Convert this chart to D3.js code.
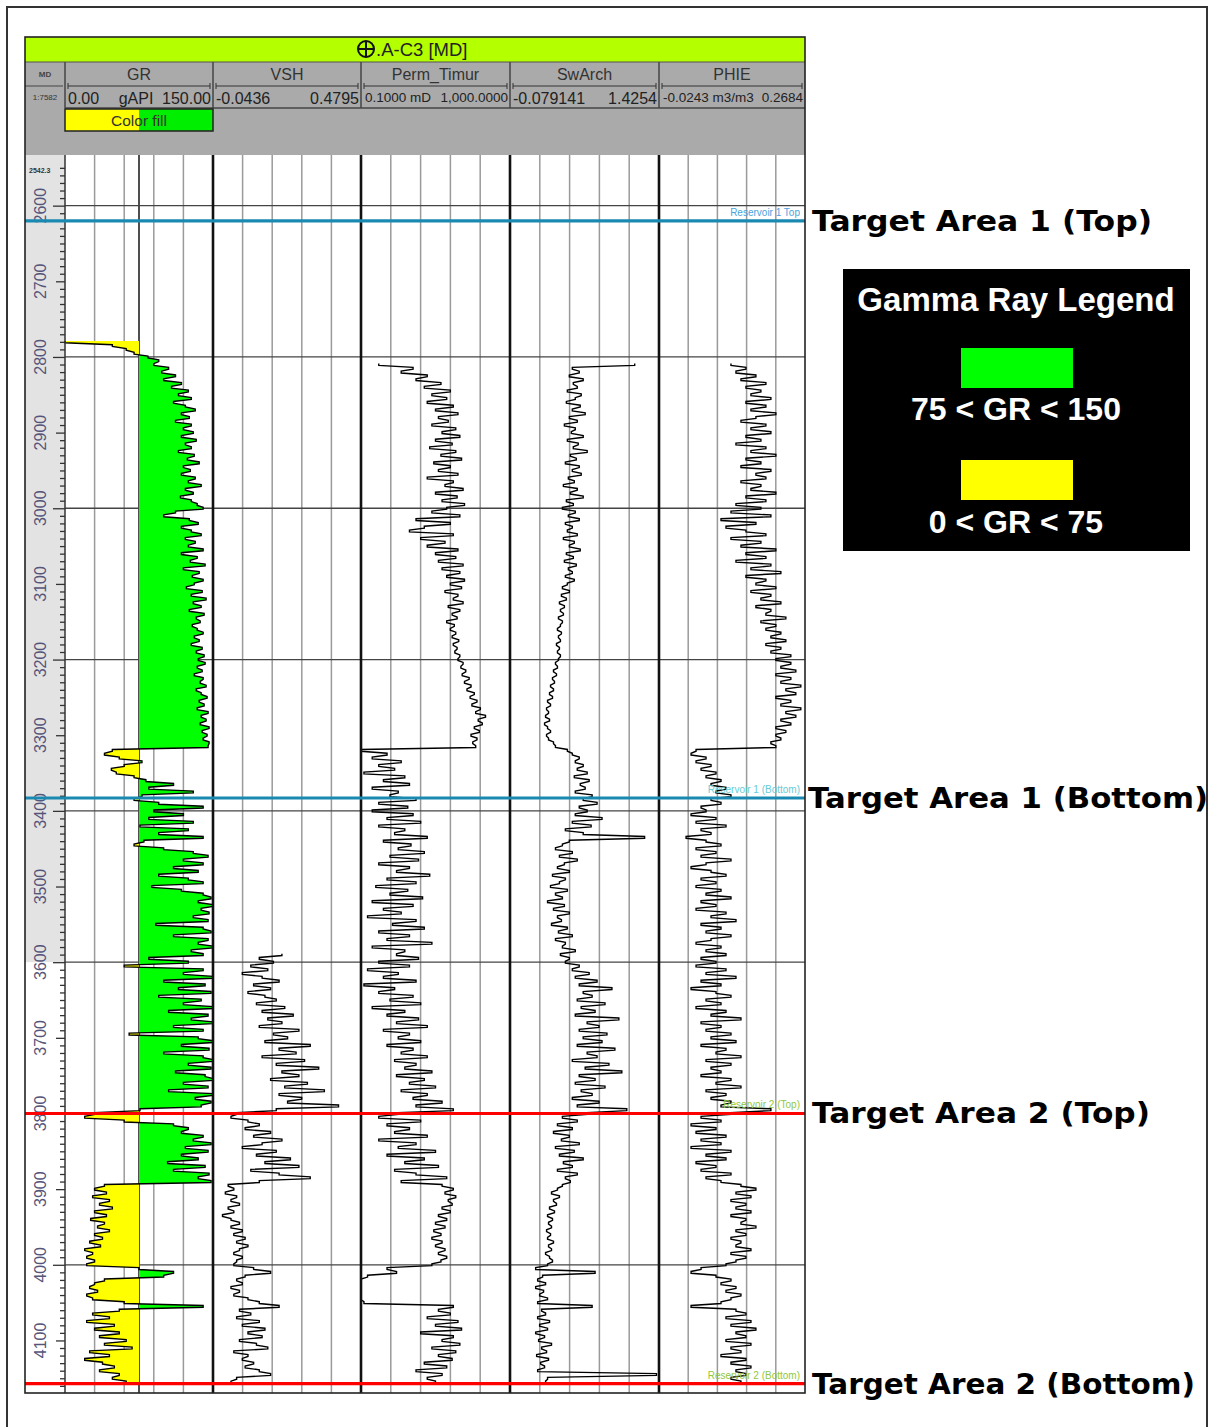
<!DOCTYPE html>
<html><head><meta charset="utf-8">
<script src="https://cdn.jsdelivr.net/npm/d3@7"></script>
<style>
html,body{margin:0;padding:0;background:#fff;}
svg{display:block;}
</style></head><body>
<svg id="chart" width="1212" height="1427"></svg>
<script>
// ---- Well A-C3 log curves, sampled every 5 m of measured depth ----
const STEP = 5;

// Gamma ray (gAPI), first sample at 2780 m
const grTop = 2780;
const grValues = [
  0, 48, 62, 70,
  84, 95, 90, 105, 98, 112, 100, 118, 108, 125,
  115, 128, 110, 122, 132, 118, 126, 112, 128, 120,
  130, 118, 133, 122, 128, 115, 131, 124, 136, 120,
  127, 118, 132, 125, 138, 122, 130, 117, 128, 134,
  140, 112, 100, 126, 135, 118, 128, 138, 122, 132,
  125, 140, 118, 134, 127, 142, 120, 136, 129, 140,
  131, 123, 139, 128, 143, 130, 138, 126, 141, 133,
  137, 129, 134, 140, 131, 136, 128, 139, 133, 141,
  135, 142, 134, 139, 131, 140, 137, 143, 133, 138,
  144, 136, 141, 134, 145, 138, 143, 137, 146, 139,
  144, 140, 146, 145, 48, 40, 55, 78, 60, 47,
  52, 70, 82, 110, 85, 130, 78, 70, 95, 140,
  90, 120, 85, 130, 76, 125, 95, 140, 80, 70,
  100, 130, 145, 120, 140, 110, 135, 95, 125, 140,
  88, 118, 140, 148, 135, 150, 138, 146, 130, 145,
  92, 140, 148, 110, 145, 135, 150, 128, 140, 85,
  125, 60, 140, 120, 150, 100, 142, 115, 148, 95,
  138, 120, 150, 105, 145, 128, 150, 110, 140, 65,
  135, 150, 118, 146, 100, 140, 150, 125, 148, 112,
  142, 150, 120, 145, 105, 150, 132, 148, 138, 76,
  30, 20, 60, 110, 125, 118, 140, 130, 148, 122,
  145, 118, 135, 104, 142, 110, 146, 135, 148, 40,
  30, 42, 28, 45, 35, 48, 30, 42, 26, 40,
  33, 45, 30, 38, 25, 36, 20, 28, 22, 30,
  22, 75, 110, 100, 40, 30, 25, 33, 22, 28,
  60, 140, 55, 28, 45, 22, 50, 30, 55, 35,
  62, 40, 68, 25, 45, 20, 38, 50, 35, 55,
  48, 62
];

// Shale volume (v/v), first sample at 3590 m
const vshTop = 3590;
const vshValues = [
  0.20, 0.12,
  0.17, 0.09, 0.15, 0.06, 0.13, 0.19, 0.10, 0.16, 0.08, 0.14,
  0.18, 0.11, 0.21, 0.13, 0.24, 0.15, 0.20, 0.12, 0.26, 0.17,
  0.22, 0.14, 0.30, 0.19, 0.25, 0.13, 0.28, 0.18, 0.33, 0.20,
  0.26, 0.16, 0.29, 0.21, 0.35, 0.19, 0.27, 0.22, 0.40, 0.18,
  0.04, 0.02, 0.08, 0.12, 0.07, 0.16, 0.10, 0.20, 0.13, 0.06,
  0.18, 0.11, 0.23, 0.14, 0.26, 0.09, 0.19, 0.30, 0.12, 0.01,
  0.03, 0.00, 0.04, 0.02, 0.05, 0.01, 0.03, -0.01, 0.02, 0.05,
  0.02, 0.06, 0.03, 0.07, 0.04, 0.08, 0.05, 0.03, 0.06, 0.04,
  0.03, 0.10, 0.16, 0.07, 0.04, 0.06, 0.02, 0.05, 0.03, 0.08,
  0.12, 0.19, 0.05, 0.09, 0.04, 0.12, 0.06, 0.14, 0.08, 0.13,
  0.05, 0.11, 0.15, 0.03, 0.08, 0.06, 0.10, 0.07, 0.12, 0.16,
  0.04, 0.02
];

// Permeability, Timur (mD), first sample at 2810 m
const permTop = 2810;
const permValues = [
  0.3, 2.5, 1.2, 6, 3, 14, 5, 25, 8, 20,
  6, 30, 10, 40, 12, 22, 8, 35, 15, 45,
  10, 28, 7, 35, 14, 50, 9, 25, 12, 40,
  6, 30, 18, 55, 10, 38, 15, 60, 20, 8,
  45, 3, 25, 5, 2, 30, 4, 18, 6, 40,
  10, 35, 12, 55, 15, 45, 20, 60, 25, 50,
  18, 40, 30, 55, 22, 45, 28, 38, 20, 32,
  25, 35, 28, 42, 30, 38, 33, 45, 40, 55,
  48, 65, 52, 80, 60, 90, 70, 110, 85, 130,
  95, 160, 120, 220, 140, 180, 110, 150, 90, 130,
  100, 120, 0.1, 0.5, 0.2, 1.2, 0.3, 0.8, 0.12, 1.5,
  0.4, 2.0, 0.2, 1.0, 0.6, 3.0, 0.3, 1.8, 0.2, 2.5,
  0.5, 4, 0.3, 1.5, 0.8, 6, 0.4, 2.2, 1.0, 5,
  0.6, 3.5, 0.3, 2.0, 0.9, 7, 0.5, 3, 0.25, 1.8,
  0.6, 4.5, 0.2, 2.5, 0.4, 1.2, 0.15, 3.0, 0.7, 5,
  0.3, 2.0, 0.5, 8, 0.2, 1.5, 0.9, 3.5, 0.3, 2.0,
  0.15, 1.0, 0.4, 3.0, 0.12, 0.8, 0.3, 2.5, 0.6, 4,
  0.2, 1.5, 0.5, 3.5, 0.9, 6, 0.4, 2.0, 1.0, 4,
  0.5, 2.5, 1.2, 6, 0.8, 3.0, 1.5, 8, 0.9, 5,
  2.0, 10, 1.2, 6, 2.5, 15, 3, 30, 1.0, 0.3,
  4, 0.5, 2.0, 0.8, 6, 0.3, 3, 1.0, 10, 0.5,
  5, 1.5, 12, 0.8, 3, 20, 1.2, 15, 30, 18,
  35, 22, 28, 15, 25, 12, 20, 10, 18, 9,
  14, 8, 15, 10, 18, 12, 20, 14, 8, 0.5,
  0.9, 0.15, 0.1, 0.1, 0.1, 0.1, 0.1, 0.1, 0.12, 30,
  12, 25, 6, 40, 10, 50, 4, 30, 15, 45,
  8, 35, 12, 28, 5, 20, 3, 15, 6, 10
];

// Water saturation, Archie (v/v), first sample at 2810 m
const swTop = 2810;
const swValues = [
  1.18, 0.55, 0.62, 0.52, 0.66, 0.56, 0.60, 0.50, 0.64, 0.58,
  0.49, 0.63, 0.55, 0.68, 0.52, 0.60, 0.47, 0.58, 0.54, 0.66,
  0.50, 0.61, 0.56, 0.70, 0.53, 0.59, 0.48, 0.62, 0.55, 0.64,
  0.51, 0.57, 0.46, 0.60, 0.53, 0.66, 0.49, 0.56, 0.45, 0.58,
  0.51, 0.62, 0.48, 0.55, 0.50, 0.60, 0.46, 0.57, 0.52, 0.63,
  0.49, 0.56, 0.47, 0.59, 0.51, 0.55, 0.48, 0.57, 0.50, 0.45,
  0.52, 0.44, 0.49, 0.42, 0.47, 0.43, 0.46, 0.41, 0.45, 0.43,
  0.40, 0.44, 0.41, 0.43, 0.39, 0.42, 0.40, 0.43, 0.41, 0.38,
  0.40, 0.36, 0.39, 0.35, 0.37, 0.33, 0.36, 0.32, 0.35, 0.30,
  0.33, 0.29, 0.31, 0.28, 0.32, 0.27, 0.30, 0.33, 0.29, 0.31,
  0.36, 0.38, 0.50, 0.55, 0.62, 0.58, 0.66, 0.60, 0.70, 0.57,
  0.72, 0.63, 0.68, 0.58, 0.75, 0.66, 0.80, 0.62, 0.70, 0.58,
  0.85, 0.55, 0.74, 0.48, 0.66, 1.28, 0.52, 0.45, 0.38, 0.55,
  0.42, 0.60, 0.47, 0.40, 0.52, 0.35, 0.48, 0.42, 0.33, 0.50,
  0.38, 0.45, 0.30, 0.47, 0.36, 0.52, 0.40, 0.44, 0.34, 0.50,
  0.41, 0.55, 0.38, 0.48, 0.45, 0.58, 0.43, 0.52, 0.48, 0.62,
  0.55, 0.72, 0.58, 0.80, 0.62, 0.95, 0.66, 0.75, 0.60, 0.88,
  0.64, 0.78, 0.58, 1.02, 0.70, 0.82, 0.62, 0.90, 0.66, 0.85,
  0.60, 0.98, 0.70, 0.80, 0.55, 0.92, 0.68, 1.05, 0.62, 0.78,
  0.58, 0.88, 0.64, 0.75, 0.55, 0.82, 0.60, 1.10, 0.70, 0.45,
  0.60, 0.40, 0.55, 0.36, 0.52, 0.44, 0.62, 0.38, 0.57, 0.42,
  0.66, 0.46, 0.55, 0.40, 0.60, 0.48, 0.53, 0.45, 0.40, 0.34,
  0.42, 0.36, 0.39, 0.32, 0.37, 0.30, 0.35, 0.31, 0.34, 0.29,
  0.33, 0.30, 0.36, 0.31, 0.34, 0.28, 0.32, 0.35, 0.30, 0.18,
  0.78, 0.25, 0.20, 0.28, 0.18, 0.26, 0.22, 0.30, 0.20, 0.75,
  0.24, 0.28, 0.20, 0.32, 0.22, 0.30, 0.18, 0.27, 0.21, 0.34,
  0.24, 0.29, 0.19, 0.31, 0.23, 0.27, 0.20, 1.40, 0.30, 0.28
];

// Effective porosity (m3/m3), first sample at 2810 m
const phieTop = 2810;
const phieValues = [
  0.12, 0.15, 0.13, 0.17, 0.14, 0.19, 0.15, 0.18, 0.16, 0.20,
  0.15, 0.19, 0.16, 0.21, 0.17, 0.14, 0.19, 0.16, 0.20, 0.15,
  0.18, 0.13, 0.19, 0.16, 0.21, 0.15, 0.18, 0.14, 0.20, 0.17,
  0.19, 0.14, 0.18, 0.16, 0.21, 0.15, 0.19, 0.13, 0.18, 0.12,
  0.20, 0.10, 0.17, 0.11, 0.15, 0.19, 0.12, 0.18, 0.14, 0.21,
  0.15, 0.19, 0.13, 0.20, 0.16, 0.22, 0.15, 0.19, 0.17, 0.21,
  0.16, 0.20, 0.18, 0.22, 0.17, 0.20, 0.19, 0.23, 0.18, 0.21,
  0.19, 0.22, 0.20, 0.23, 0.19, 0.22, 0.20, 0.24, 0.21, 0.24,
  0.22, 0.25, 0.21, 0.24, 0.22, 0.26, 0.23, 0.25, 0.21, 0.24,
  0.22, 0.26, 0.23, 0.25, 0.22, 0.24, 0.21, 0.23, 0.21, 0.22,
  0.20, 0.21, 0.05, 0.04, 0.07, 0.05, 0.08, 0.06, 0.09, 0.07,
  0.10, 0.08, 0.11, 0.09, 0.12, 0.08, 0.10, 0.06, 0.07, 0.04,
  0.09, 0.05, 0.11, 0.06, 0.08, 0.03, 0.07, 0.10, 0.05, 0.09,
  0.06, 0.12, 0.07, 0.04, 0.08, 0.11, 0.06, 0.09, 0.05, 0.10,
  0.07, 0.12, 0.06, 0.09, 0.05, 0.11, 0.08, 0.13, 0.06, 0.10,
  0.07, 0.12, 0.08, 0.05, 0.10, 0.07, 0.11, 0.06, 0.09, 0.05,
  0.11, 0.07, 0.13, 0.06, 0.10, 0.04, 0.09, 0.12, 0.07, 0.10,
  0.05, 0.11, 0.08, 0.14, 0.06, 0.10, 0.07, 0.12, 0.08, 0.13,
  0.06, 0.11, 0.09, 0.14, 0.07, 0.12, 0.08, 0.10, 0.06, 0.12,
  0.09, 0.14, 0.07, 0.11, 0.08, 0.12, 0.10, 0.20, 0.12, 0.06,
  0.10, 0.04, 0.09, 0.05, 0.11, 0.06, 0.10, 0.04, 0.12, 0.07,
  0.11, 0.05, 0.09, 0.06, 0.12, 0.07, 0.10, 0.14, 0.17, 0.13,
  0.16, 0.12, 0.15, 0.13, 0.16, 0.12, 0.15, 0.14, 0.17, 0.13,
  0.15, 0.12, 0.14, 0.13, 0.16, 0.12, 0.15, 0.13, 0.11, 0.06,
  0.04, 0.09, 0.12, 0.10, 0.13, 0.11, 0.14, 0.12, 0.10, 0.04,
  0.13, 0.15, 0.11, 0.16, 0.12, 0.17, 0.13, 0.15, 0.11, 0.16,
  0.12, 0.14, 0.10, 0.15, 0.12, 0.16, 0.13, 0.15, 0.12, 0.14
];

// Well tops
const topNames  = ["Reservoir 1 Top", "Reservoir 1 (Bottom)", "Reservoir 2 (Top)", "Reservoir 2 (Bottom)"];
const topDepths = [2620, 3383, 3800, 4157];
const targetLabels = ["Target Area 1 (Top)", "Target Area 1 (Bottom)", "Target Area 2 (Top)", "Target Area 2 (Bottom)"];

// Depth axis labels
const depthLabels = [2600, 2700, 2800, 2900, 3000, 3100, 3200, 3300, 3400, 3500, 3600, 3700, 3800, 3900, 4000, 4100];
const depthTopLabel = "2542.3";

// Track headers
const trackNames  = ["GR", "VSH", "Perm_Timur", "SwArch", "PHIE"];
const trackLeft   = ["0.00", "-0.0436", "0.1000 mD", "-0.079141", "-0.0243 m3/m3"];
const trackUnit   = ["gAPI", "", "", "", ""];
const trackRight  = ["150.00", "0.4795", "1,000.0000", "1.4254", "0.2684"];

// GR cut-off and legend
const grCutoff = 75;
const legendTitle = "Gamma Ray Legend";
const legendLabels = ["75 < GR < 150", "0 < GR < 75"];

// ---------------------------------------------------------------
const svg = d3.select("#chart");
const ARIAL = "'Liberation Sans', Arial, sans-serif";
const VERD = "'DejaVu Sans', Verdana, sans-serif";

const PL = 25, PR = 805, PT = 37, PB = 1393;
const plotTop = 155;
const trackEdges = [65, 213, 361, 510, 659, 805];

const y = d3.scaleLinear().domain([2542.3, 4170]).range([162, 1393.4]);

const xScales = [
  d3.scaleLinear().domain([0, 150]).range([65, 213]),
  d3.scaleLinear().domain([-0.0436, 0.4795]).range([213, 361]),
  d3.scaleLog().domain([0.1, 1000]).range([361, 510]),
  d3.scaleLinear().domain([-0.079141, 1.4254]).range([510, 659]),
  d3.scaleLinear().domain([-0.0243, 0.2684]).range([659, 805])
];

// each sample is held over part of its 5 m interval, so changes between
// samples show as near-horizontal swings, as on a printed log
const HOLD = 1.2;
const toTrace = (top, vals) => vals.flatMap((v, i) => {
  const d = top + i * STEP;
  return [{ d: d - HOLD, v }, { d: d + HOLD, v }];
});
const curves = [
  toTrace(grTop, grValues),
  toTrace(vshTop, vshValues),
  toTrace(permTop, permValues),
  toTrace(swTop, swValues),
  toTrace(phieTop, phieValues)
];

// outer frame
svg.append("rect").attr("x", 7).attr("y", 7).attr("width", 1200).attr("height", 1440)
  .attr("fill", "none").attr("stroke", "#333").attr("stroke-width", 2);

// ---- header ----
svg.append("rect").attr("x", PL).attr("y", PT).attr("width", PR - PL).attr("height", 25)
  .attr("fill", "#b4ff00");
svg.append("rect").attr("x", PL).attr("y", 62).attr("width", PR - PL).attr("height", plotTop - 62)
  .attr("fill", "#aaaaaa");
svg.append("line").attr("x1", PL).attr("x2", PR).attr("y1", 62).attr("y2", 62)
  .attr("stroke", "#555").attr("stroke-width", 1.2);

// well title with its marker
const tg = svg.append("g");
tg.append("circle").attr("cx", 366).attr("cy", 49).attr("r", 8)
  .attr("fill", "none").attr("stroke", "#111").attr("stroke-width", 2);
tg.append("line").attr("x1", 358).attr("x2", 374).attr("y1", 49).attr("y2", 49).attr("stroke", "#111").attr("stroke-width", 2);
tg.append("line").attr("x1", 366).attr("x2", 366).attr("y1", 41).attr("y2", 57).attr("stroke", "#111").attr("stroke-width", 2);
tg.append("text").attr("x", 376).attr("y", 56).attr("font-family", ARIAL).attr("font-size", 18.5)
  .attr("fill", "#222").text(".A-C3 [MD]");

// MD column header
svg.append("text").attr("x", 45).attr("y", 77).attr("text-anchor", "middle")
  .attr("font-family", ARIAL).attr("font-size", 8).attr("font-weight", "bold").attr("fill", "#444").text("MD");
svg.append("line").attr("x1", PL).attr("x2", 63).attr("y1", 86).attr("y2", 86).attr("stroke", "#444");
svg.append("text").attr("x", 45).attr("y", 100).attr("text-anchor", "middle")
  .attr("font-family", ARIAL).attr("font-size", 8).attr("fill", "#333").text("1:7582");

// track header cells
trackNames.forEach((name, i) => {
  const a = trackEdges[i], b = trackEdges[i + 1], mid = (a + b) / 2;
  const small = trackLeft[i].indexOf(" ") > 0;
  svg.append("text").attr("x", mid).attr("y", 80).attr("text-anchor", "middle")
    .attr("font-family", ARIAL).attr("font-size", 16).attr("fill", "#333").text(name);
  // scale bar
  svg.append("line").attr("x1", a + 3).attr("x2", b - 3).attr("y1", 86).attr("y2", 86).attr("stroke", "#333");
  [a + 3, b - 3].forEach(xx => svg.append("line").attr("x1", xx).attr("x2", xx).attr("y1", 83).attr("y2", 89).attr("stroke", "#333"));
  const fs = small ? 13.5 : 16;
  const by = small ? 102 : 104;
  svg.append("text").attr("x", a + (small ? 4 : 3)).attr("y", by).attr("font-family", ARIAL).attr("font-size", fs)
    .attr("fill", "#222").text(trackLeft[i]);
  svg.append("text").attr("x", b - 2).attr("y", by).attr("text-anchor", "end").attr("font-family", ARIAL)
    .attr("font-size", fs).attr("fill", "#222").text(trackRight[i]);
  if (trackUnit[i]) {
    svg.append("text").attr("x", mid - 3).attr("y", by).attr("text-anchor", "middle").attr("font-family", ARIAL)
      .attr("font-size", fs).attr("fill", "#222").text(trackUnit[i]);
  }
});
trackEdges.slice(0, 5).forEach(xx => svg.append("line").attr("x1", xx).attr("x2", xx)
  .attr("y1", 62).attr("y2", 108).attr("stroke", "#444").attr("stroke-width", 1.5));
svg.append("line").attr("x1", 65).attr("x2", PR).attr("y1", 108).attr("y2", 108)
  .attr("stroke", "#444").attr("stroke-width", 1.5);

// GR colour-fill swatch
const xg = xScales[0];
svg.append("rect").attr("x", 65).attr("y", 109).attr("width", xg(grCutoff) - 65).attr("height", 22).attr("fill", "#ffff00");
svg.append("rect").attr("x", xg(grCutoff)).attr("y", 109).attr("width", 213 - xg(grCutoff)).attr("height", 22).attr("fill", "#00ee00");
svg.append("rect").attr("x", 65).attr("y", 109).attr("width", 148).attr("height", 22)
  .attr("fill", "none").attr("stroke", "#222").attr("stroke-width", 1.5);
svg.append("text").attr("x", 139).attr("y", 126).attr("text-anchor", "middle").attr("font-family", ARIAL)
  .attr("font-size", 15.5).attr("fill", "#333").text("Color fill");

// ---- plot area ----
svg.append("rect").attr("x", PL).attr("y", plotTop).attr("width", PR - PL).attr("height", PB - plotTop).attr("fill", "#fff");
svg.append("rect").attr("x", PL).attr("y", plotTop).attr("width", 40).attr("height", y(3600) - plotTop).attr("fill", "#e3e3e3");

// vertical grid: five divisions per track, plus the GR cut-off
xScales.forEach((s, i) => {
  const a = trackEdges[i], b = trackEdges[i + 1];
  for (let k = 1; k < 5; k++) {
    const xx = a + (b - a) * k / 5;
    svg.append("line").attr("x1", xx).attr("x2", xx).attr("y1", plotTop).attr("y2", PB)
      .attr("stroke", "#9a9a9a").attr("stroke-width", 1.5);
  }
});
svg.append("line").attr("x1", xg(grCutoff)).attr("x2", xg(grCutoff)).attr("y1", plotTop).attr("y2", PB)
  .attr("stroke", "#222").attr("stroke-width", 1.6);

// depth ticks
const depthAxis = d3.axisLeft(y).tickValues(d3.range(2550, 4170, 10))
  .tickSize(5).tickFormat("");
const ag = svg.append("g").attr("transform", "translate(65,0)").call(depthAxis);
ag.select(".domain").remove();
ag.selectAll(".tick line").attr("stroke", "#333").attr("stroke-width", 1.3)
  .attr("x2", d => d % 200 === 0 ? -12 : (d % 100 === 0 ? -9 : -5));

// horizontal major grid
d3.range(2600, 4100, 200).forEach(d => {
  svg.append("line").attr("x1", 65).attr("x2", PR).attr("y1", y(d)).attr("y2", y(d))
    .attr("stroke", "#444").attr("stroke-width", 1.3);
});

// depth labels
depthLabels.forEach(d => {
  svg.append("text").attr("transform", `translate(46,${y(d)}) rotate(-90)`).attr("text-anchor", "middle")
    .attr("font-family", ARIAL).attr("font-size", 16).attr("fill", "#55557a").text(d);
});
svg.append("text").attr("x", 29).attr("y", 173).attr("font-family", ARIAL).attr("font-size", 7)
  .attr("font-weight", "bold").attr("fill", "#333").text(depthTopLabel);

// GR shading: yellow below cut-off, green above
const defs = svg.append("defs");
defs.append("clipPath").attr("id", "clipLow").append("rect")
  .attr("x", 65).attr("y", plotTop).attr("width", xg(grCutoff) - 65).attr("height", PB - plotTop);
defs.append("clipPath").attr("id", "clipHigh").append("rect")
  .attr("x", xg(grCutoff)).attr("y", plotTop).attr("width", 213 - xg(grCutoff)).attr("height", PB - plotTop);
const grArea = d3.area().y(d => y(d.d)).x0(xg(grCutoff)).x1(d => xg(d.v));
svg.append("path").datum(curves[0]).attr("d", grArea).attr("fill", "#00ff00").attr("clip-path", "url(#clipHigh)");
svg.append("path").datum(curves[0]).attr("d", grArea).attr("fill", "#ffff00").attr("clip-path", "url(#clipLow)");

// log traces
curves.forEach((data, i) => {
  const s = xScales[i];
  const line = d3.line().x(d => s(d.v)).y(d => y(d.d));
  svg.append("path").datum(data).attr("d", line).attr("fill", "none")
    .attr("stroke", "#000").attr("stroke-width", 1.4).attr("stroke-linejoin", "miter");
});

// track borders
trackEdges.slice(1, 5).forEach(xx => svg.append("line").attr("x1", xx).attr("x2", xx)
  .attr("y1", plotTop).attr("y2", PB).attr("stroke", "#111").attr("stroke-width", 2.6));
svg.append("line").attr("x1", 65).attr("x2", 65).attr("y1", plotTop).attr("y2", PB)
  .attr("stroke", "#333").attr("stroke-width", 1.5);

// well tops
const topColors = ["#1a89b2", "#1a89b2", "#ff0000", "#ff0000"];
const topLabelColors = ["#4aa3dd", "#66ccd8", "#90c840", "#90c840"];
topDepths.forEach((d, i) => {
  svg.append("line").attr("x1", PL).attr("x2", PR).attr("y1", y(d)).attr("y2", y(d))
    .attr("stroke", topColors[i]).attr("stroke-width", 3.2);
  svg.append("text").attr("x", 800).attr("y", y(d) - 5).attr("text-anchor", "end")
    .attr("font-family", ARIAL).attr("font-size", 10).attr("fill", topLabelColors[i]).text(topNames[i]);
});

// panel border
svg.append("rect").attr("x", PL).attr("y", PT).attr("width", PR - PL).attr("height", PB - PT)
  .attr("fill", "none").attr("stroke", "#222").attr("stroke-width", 1.6);

// target labels
const targetX = [812, 808, 812, 812];
const targetW = [340, 400, 338, 383];
topDepths.forEach((d, i) => {
  svg.append("text").attr("x", targetX[i]).attr("y", y(d) + 10).attr("font-family", VERD)
    .attr("font-weight", "bold").attr("font-size", 29).attr("fill", "#000")
    .attr("textLength", targetW[i]).attr("lengthAdjust", "spacingAndGlyphs").text(targetLabels[i]);
});

// GR legend
const lg = svg.append("g");
lg.append("rect").attr("x", 843).attr("y", 269).attr("width", 347).attr("height", 282).attr("fill", "#000");
lg.append("text").attr("x", 1016).attr("y", 311).attr("text-anchor", "middle").attr("font-family", ARIAL)
  .attr("font-weight", "bold").attr("font-size", 33).attr("fill", "#fff").text(legendTitle);
const swCol = ["#00ff00", "#ffff00"];
const swY = [348, 460];
const lbY = [420, 533];
legendLabels.forEach((t, i) => {
  lg.append("rect").attr("x", 961).attr("y", swY[i]).attr("width", 112).attr("height", 40).attr("fill", swCol[i]);
  lg.append("text").attr("x", 1016).attr("y", lbY[i]).attr("text-anchor", "middle").attr("font-family", ARIAL)
    .attr("font-weight", "bold").attr("font-size", 32).attr("fill", "#fff").text(t);
});
</script>
</body></html>
